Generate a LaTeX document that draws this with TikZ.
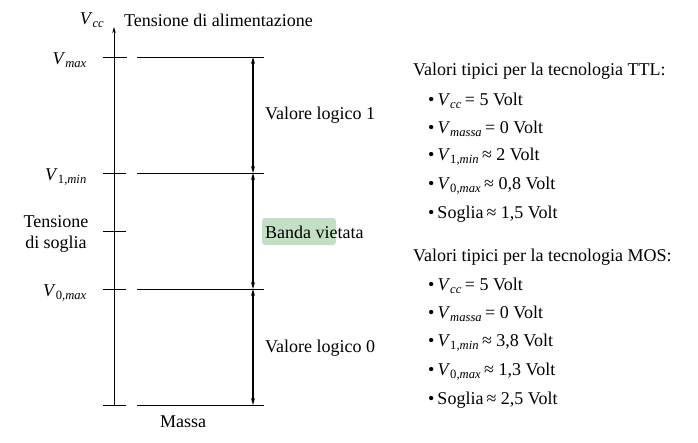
\documentclass[tikz,border=0pt]{standalone}
\usepackage{fontspec}
\setmainfont{Liberation Serif}
\usetikzlibrary{arrows.meta}
\tikzset{lbl/.style={font=\fontsize{18}{21}\selectfont, inner sep=0pt},
	level/.style={line width=0.9pt},
	span/.style={line width=1.1pt, {Stealth[length=7pt,width=4pt]}-{Stealth[length=7pt,width=4pt]}}}
\definecolor{hlgreen}{RGB}{196,224,196}

\begin{document}
\begin{tikzpicture}[x=1pt,y=-1pt]
\useasboundingbox (0,0) rectangle (698,442);
% asse verticale
\coordinate (bot) at (114,405);
\coordinate (top) at (114,27);
\draw[line width=0.9pt,-{Stealth[length=6pt,width=3.5pt]}] (bot) -- (top);
\node[lbl] (vcc) at (92,20) {\textit{V}\textsubscript{\textit{cc}}};
\node[lbl,anchor=west] (alim) at (124,20) {Tensione di alimentazione};
% livelli
\coordinate (tmax-l) at (103,57); \coordinate (tmax-r) at (127,57);
\coordinate (max-l) at (137,57);  \coordinate (max-r) at (264,57);
\coordinate (t1-l) at (103,173);  \coordinate (t1-r) at (126,173);
\coordinate (v1-l) at (137,173);  \coordinate (v1-r) at (264,173);
\coordinate (ts-l) at (103,231);  \coordinate (ts-r) at (126,231);
\coordinate (t0-l) at (103,289);  \coordinate (t0-r) at (126,289);
\coordinate (v0-l) at (137,289);  \coordinate (v0-r) at (264,289);
\coordinate (tm-l) at (103,405);  \coordinate (tm-r) at (126,405);
\coordinate (ms-l) at (137,405);  \coordinate (ms-r) at (264,405);
\draw[level] (tmax-l) -- (tmax-r);
\draw[level] (max-l) -- (max-r);
\draw[level] (t1-l) -- (t1-r);
\draw[level] (v1-l) -- (v1-r);
\draw[level] (ts-l) -- (ts-r);
\draw[level] (t0-l) -- (t0-r);
\draw[level] (v0-l) -- (v0-r);
\draw[level] (tm-l) -- (tm-r);
\draw[level] (ms-l) -- (ms-r);
% etichette a sinistra
\node[lbl,anchor=east] (vmax) at (87,60) {\textit{V}\textsubscript{\textit{max}}};
\node[lbl,anchor=east] (v1min) at (87,177) {\textit{V}\textsubscript{1,\textit{min}}};
\node[lbl,align=center] (soglia) at (56,234) {Tensione\\di soglia};
\node[lbl,anchor=east] (v0max) at (87,293) {\textit{V}\textsubscript{0,\textit{max}}};
\node[lbl] (massa) at (183,422) {Massa};
% frecce
\coordinate (a-max) at (253,57);
\coordinate (a-1) at (253,173);
\coordinate (a-0) at (253,289);
\coordinate (a-ms) at (253,405);
\draw[span] (a-max) -- (a-1);
\draw[span] (a-1) -- (a-0);
\draw[span] (a-0) -- (a-ms);
\fill[hlgreen,rounded corners=3pt] (262,218) rectangle (336,245);
\node[lbl,anchor=west] (log1) at (265,115) {Valore logico 1};
\node[lbl,anchor=west] (banda) at (265,232) {Banda vietata};
\node[lbl,anchor=west] (log0) at (265,348) {Valore logico 0};
% valori tipici
\node[lbl,anchor=west] (ttl) at (413,71) {Valori tipici per la tecnologia TTL:};
\node[lbl,anchor=west] (ttl1) at (428,101) {\textbullet\,\textit{V}\textsubscript{\textit{cc}}\,= 5 Volt};
\node[lbl,anchor=west] (ttl2) at (428,129) {\textbullet\,\textit{V}\textsubscript{\textit{massa}}\,= 0 Volt};
\node[lbl,anchor=west] (ttl3) at (428,157) {\textbullet\,\textit{V}\textsubscript{1,\textit{min}}\,≈ 2 Volt};
\node[lbl,anchor=west] (ttl4) at (428,186) {\textbullet\,\textit{V}\textsubscript{0,\textit{max}}\,≈ 0,8 Volt};
\node[lbl,anchor=west] (ttl5) at (428,214) {\textbullet\,Soglia\,≈ 1,5 Volt};
\node[lbl,anchor=west] (mos) at (413,257) {Valori tipici per la tecnologia MOS:};
\node[lbl,anchor=west] (mos1) at (428,286) {\textbullet\,\textit{V}\textsubscript{\textit{cc}}\,= 5 Volt};
\node[lbl,anchor=west] (mos2) at (428,314) {\textbullet\,\textit{V}\textsubscript{\textit{massa}}\,= 0 Volt};
\node[lbl,anchor=west] (mos3) at (428,343) {\textbullet\,\textit{V}\textsubscript{1,\textit{min}}\,≈ 3,8 Volt};
\node[lbl,anchor=west] (mos4) at (428,372) {\textbullet\,\textit{V}\textsubscript{0,\textit{max}}\,≈ 1,3 Volt};
\node[lbl,anchor=west] (mos5) at (428,400) {\textbullet\,Soglia\,≈ 2,5 Volt};
\end{tikzpicture}
\end{document}
